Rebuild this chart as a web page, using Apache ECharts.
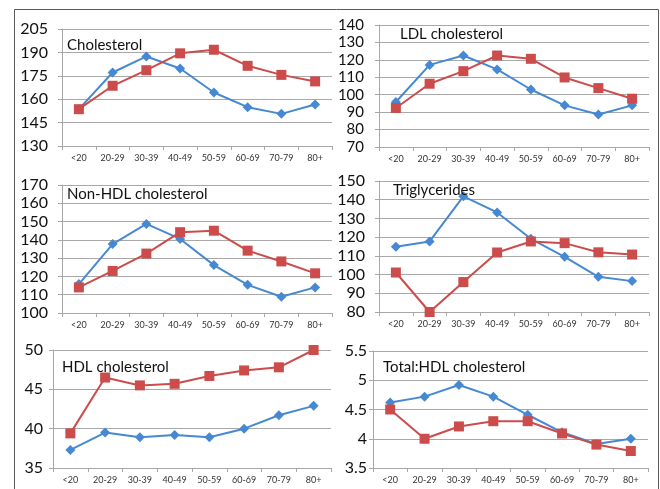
<!DOCTYPE html>
<html><head><meta charset="utf-8">
<script src="https://cdn.jsdelivr.net/npm/echarts@6/dist/echarts.min.js"></script>
<style>html,body{margin:0;padding:0;background:#fff}#c{width:660px;height:489px}</style>
</head><body><div id="c"></div>
<script>
const categories = ['<20','20-29','30-39','40-49','50-59','60-69','70-79','80+'];
const cholBlue = [153.6,177.1,187.4,179.7,164.3,154.9,150.6,156.6];
const cholRed  = [153.6,168.6,178.6,189.4,191.7,181.4,175.6,171.4];
const ldlBlue = [95.8,117.1,122.5,114.5,103.0,93.9,88.6,93.9];
const ldlRed  = [92.4,106.3,113.5,122.5,120.6,109.9,103.8,97.7];
const nonHdlBlue = [115.8,137.7,148.7,140.5,126.2,115.4,108.9,114.0];
const nonHdlRed  = [114.0,123.0,132.5,144.2,145.0,134.1,128.2,121.7];
const trigBlue = [114.9,117.7,141.8,133.2,119.1,109.5,98.8,96.5];
const trigRed  = [101.1,80.0,96.0,111.8,117.7,116.8,111.9,110.7];
const hdlBlue = [37.3,39.5,38.9,39.2,38.9,40.0,41.7,42.9];
const hdlRed  = [39.4,46.5,45.5,45.7,46.7,47.4,47.8,50.0];
const ratioBlue = [4.62,4.72,4.92,4.72,4.41,4.11,3.91,4.0];
const ratioRed  = [4.5,4.0,4.21,4.3,4.3,4.09,3.9,3.79];
const titles = ['Cholesterol','LDL cholesterol','Non-HDL cholesterol','Triglycerides','HDL cholesterol','Total:HDL cholesterol'];
const yMins = [130,70,100,80,35,3.5];
const yMaxs = [205,140,170,150,50,5.5];
const yIntervals = [15,10,10,10,5,0.5];

const panels = [
  {blue:cholBlue, red:cholRed, grid:{left:62,top:29,width:270,height:117}, title:[67,45], fs:16, m:14},
  {blue:ldlBlue, red:ldlRed, grid:{left:379,top:25,width:270,height:122}, title:[400,34], fs:15, m:15},
  {blue:nonHdlBlue, red:nonHdlRed, grid:{left:62,top:185,width:270,height:128}, title:[67,194], fs:16, m:14},
  {blue:trigBlue, red:trigRed, grid:{left:379,top:181,width:270,height:131}, title:[393,190], fs:16, m:14},
  {blue:hdlBlue, red:hdlRed, grid:{left:53,top:350,width:278,height:118}, title:[62,367], fs:16, m:10},
  {blue:ratioBlue, red:ratioRed, grid:{left:373,top:351,width:275,height:117}, title:[383,367], fs:16, m:6}
];
const BLUE = '#4689d2', RED = '#cc4c4b', GRIDC = '#a8a8a8', FONT = 'Lato';
const grid = [], xAxis = [], yAxis = [], series = [], graphic = [];
graphic.push({type:'rect', shape:{x:14.5,y:9.5,width:644,height:500}, style:{fill:'none', stroke:'#5a5a5a', lineWidth:1}, z:0});
panels.forEach((p,i)=>{
  grid.push(Object.assign({containLabel:false}, p.grid));
  xAxis.push({type:'category', gridIndex:i, data:categories, boundaryGap:true,
    axisLine:{lineStyle:{color:GRIDC,width:1}}, axisTick:{show:true,length:4,lineStyle:{color:GRIDC}},
    axisLabel:{fontSize:9, color:'#333', margin:8, fontFamily:FONT, interval:0}, splitLine:{show:false}});
  yAxis.push({type:'value', gridIndex:i, min:yMins[i], max:yMaxs[i], interval:yIntervals[i],
    axisLine:{show:true, lineStyle:{color:GRIDC,width:1}}, axisTick:{show:true,length:4,lineStyle:{color:GRIDC}},
    axisLabel:{fontSize:p.fs, color:'#111', margin:p.m, fontFamily:FONT},
    splitLine:{show:true, lineStyle:{color:GRIDC,width:1.2}}});
  series.push({type:'line', xAxisIndex:i, yAxisIndex:i, data:p.blue, symbol:'diamond', symbolSize:10,
    lineStyle:{color:BLUE,width:2}, itemStyle:{color:BLUE}, z:3, animation:false});
  series.push({type:'line', xAxisIndex:i, yAxisIndex:i, data:p.red, symbol:'rect', symbolSize:10,
    lineStyle:{color:RED,width:2}, itemStyle:{color:RED}, z:4, animation:false});
  graphic.push({type:'text', x:p.title[0], y:p.title[1], style:{text:titles[i], font:'15px Lato', fill:'#111', verticalAlign:'middle', align:'left'}, z:10});
});
const chart = echarts.init(document.getElementById('c'));
chart.setOption({animation:false, backgroundColor:'#fff', grid, xAxis, yAxis, series, graphic});
</script></body></html>
